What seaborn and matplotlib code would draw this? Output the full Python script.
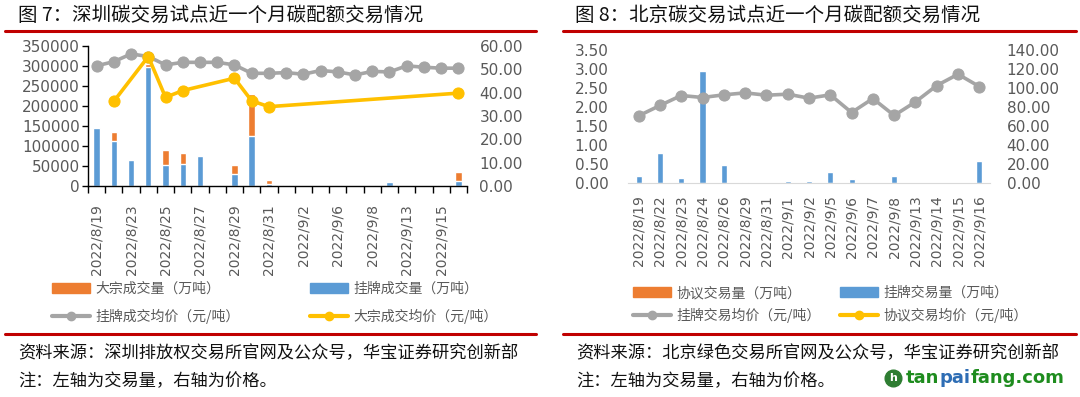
import numpy as np
import pandas as pd
import matplotlib.pyplot as plt
import seaborn as sns
from matplotlib.patches import Patch
from matplotlib.lines import Line2D
from matplotlib.ticker import FormatStrFormatter

nan = np.nan

# Shenzhen (figure 7)
sz_dates = ['2022/8/19', '2022/8/22', '2022/8/23', '2022/8/24', '2022/8/25', '2022/8/26',
            '2022/8/27', '2022/8/28', '2022/8/29', '2022/8/30', '2022/8/31', '2022/9/1',
            '2022/9/2', '2022/9/5', '2022/9/6', '2022/9/7', '2022/9/8', '2022/9/9',
            '2022/9/13', '2022/9/14', '2022/9/15', '2022/9/16']
sz_listed_vol = [145000, 113000, 65500, 297000, 52000, 54000, 74600, 3000, 30700, 124400, 4000,
                 2500, 0, 0, 3000, 0, 2500, 9000, 0, 0, 2000, 12400]
sz_bulk_vol = [0, 23000, 0, 8000, 39000, 29000, 0, 0, 21000, 105000, 12000,
               0, 0, 0, 0, 0, 0, 0, 0, 0, 0, 23000]
sz_listed_price = [51.5, 53.3, 56.6, 55.5, 51.9, 53.0, 53.0, 53.0, 51.9, 48.3, 48.3,
                   48.6, 47.9, 49.5, 48.9, 47.6, 49.1, 48.9, 51.5, 50.9, 50.5, 50.5]
sz_bulk_price = [nan, 36.3, nan, 55.5, 38.0, 40.9, nan, nan, 46.2, 36.5, 34.0,
                 nan, nan, nan, nan, nan, nan, nan, nan, nan, nan, 39.8]

# Beijing (figure 8)
bj_dates = ['2022/8/19', '2022/8/22', '2022/8/23', '2022/8/24', '2022/8/26', '2022/8/29',
            '2022/8/31', '2022/9/1', '2022/9/2', '2022/9/5', '2022/9/6', '2022/9/7',
            '2022/9/8', '2022/9/13', '2022/9/14', '2022/9/15', '2022/9/16']
bj_listed_vol = [0.19, 0.79, 0.13, 2.95, 0.48, 0.03, 0, 0.04, 0.06, 0.28, 0.11, 0,
                 0.19, 0, 0, 0, 0.58]
bj_listed_price = [70.7, 81.6, 92.1, 90.0, 92.8, 94.9, 92.4, 93.5, 89.3, 92.8, 74.2,
                   88.9, 71.1, 85.4, 102.6, 114.5, 101.5]

BLUE = '#5B9BD5'
ORANGE = '#ED7D31'
GRAY = '#A5A5A5'
YELLOW = '#FFC000'
RED = '#C00000'
TXT = '#595959'
CJK = ['Noto Sans CJK SC', 'DejaVu Sans']

sns.set_style('white')
plt.rcParams['font.family'] = ['DejaVu Sans', 'Noto Sans CJK SC']

fig = plt.figure(figsize=(10.8, 3.97), dpi=100)
W, H = 1080, 397


def fx(px):
    return px / W


def fy(py):
    return 1 - py / H


bg = fig.add_axes([0, 0, 1, 1])
bg.set_xlim(0, 1)
bg.set_ylim(0, 1)
bg.axis('off')

# ---------- left panel: Shenzhen ----------
ax = fig.add_axes([fx(88), fy(186), fx(467 - 88), (186 - 46) / H])
sz_total = [a + b for a, b in zip(sz_listed_vol, sz_bulk_vol)]
sns.barplot(x=sz_dates, y=sz_total, color=ORANGE, saturation=1, width=0.37,
            errorbar=None, ax=ax)
sns.barplot(x=sz_dates, y=sz_listed_vol, color=BLUE, saturation=1, width=0.37,
            errorbar=None, ax=ax)
ax.set_xlim(-0.5, len(sz_dates) - 0.5)
ax.set_ylim(0, 350000)
ax.set_yticks(range(0, 350001, 50000))
ax.set_xticks(range(len(sz_dates)))
ax.set_xticklabels([d if i % 2 == 0 else '' for i, d in enumerate(sz_dates)],
                   rotation=90, fontsize=10, color=TXT)
ax.set_xticks(np.arange(-0.5, len(sz_dates), 1), minor=True)
ax.tick_params(axis='x', which='major', length=0, pad=13)
ax.tick_params(axis='x', which='minor', bottom=True, length=5, width=1, color='black',
               direction='out')
ax.tick_params(axis='y', left=True, length=4, width=1, color='black', labelsize=11,
               labelcolor=TXT, pad=2)
for s in ['top', 'right']:
    ax.spines[s].set_visible(False)
for s in ['left', 'bottom']:
    ax.spines[s].set_color('black')
    ax.spines[s].set_linewidth(1)
ax.set_xlabel('')
ax.set_ylabel('')

ax2 = ax.twinx()
pos = np.arange(len(sz_dates))
sns.lineplot(x=pos, y=sz_listed_price, ax=ax2, color=GRAY, linewidth=2.6, marker='o',
             markersize=8, markeredgecolor=GRAY, legend=False)
bulk = pd.DataFrame({'x': pos, 'y': sz_bulk_price}).dropna()
sns.lineplot(data=bulk, x='x', y='y', ax=ax2, color=YELLOW, linewidth=2.6, marker='o',
             markersize=8, markeredgecolor=YELLOW, legend=False)
ax2.set_ylim(0, 60)
ax2.set_yticks(range(0, 61, 10))
ax2.yaxis.set_major_formatter(FormatStrFormatter('%.2f'))
ax2.tick_params(axis='y', length=0, labelsize=11, labelcolor=TXT, pad=9)
for s in ax2.spines.values():
    s.set_visible(False)
ax2.set_xlim(-0.5, len(sz_dates) - 0.5)
ax2.set_ylabel('')

# ---------- right panel: Beijing ----------
bx = fig.add_axes([fx(628), fy(183), fx(990 - 628), (183 - 50) / H])
sns.barplot(x=bj_dates, y=bj_listed_vol, color=BLUE, saturation=1, width=0.29,
            errorbar=None, ax=bx)
bx.set_xlim(-0.5, len(bj_dates) - 0.5)
bx.set_ylim(0, 3.5)
bx.set_yticks(np.arange(0, 3.51, 0.5))
bx.yaxis.set_major_formatter(FormatStrFormatter('%.2f'))
bx.set_xticks(range(len(bj_dates)))
bx.set_xticklabels(bj_dates, rotation=90, fontsize=10, color=TXT)
bx.tick_params(axis='x', length=0, pad=9)
bx.tick_params(axis='y', length=0, labelsize=11, labelcolor=TXT, pad=14)
for s in ['top', 'right', 'left']:
    bx.spines[s].set_visible(False)
bx.spines['bottom'].set_color('#D9D9D9')
bx.set_xlabel('')
bx.set_ylabel('')

bx2 = bx.twinx()
sns.lineplot(x=np.arange(len(bj_dates)), y=bj_listed_price, ax=bx2, color=GRAY,
             linewidth=2.6, marker='o', markersize=8, markeredgecolor=GRAY, legend=False)
bx2.set_ylim(0, 140)
bx2.set_yticks(range(0, 141, 20))
bx2.yaxis.set_major_formatter(FormatStrFormatter('%.2f'))
bx2.tick_params(axis='y', length=0, labelsize=11, labelcolor=TXT, pad=12)
for s in bx2.spines.values():
    s.set_visible(False)
bx2.set_xlim(-0.5, len(bj_dates) - 0.5)
bx2.set_ylabel('')


# ---------- legends ----------
def patch(c):
    return Patch(facecolor=c, edgecolor=c)


def mline(c):
    return Line2D([0], [0], color=c, linewidth=3, marker='o', markersize=6)


leg_kw = dict(loc='upper left', frameon=False, borderpad=0, borderaxespad=0,
              handlelength=2.7, handletextpad=0.4, labelcolor=TXT,
              prop={'family': CJK, 'size': 10})
fig.legend([patch(ORANGE), mline(GRAY)], ['大宗成交量（万吨）', '挂牌成交均价（元/吨）'],
           bbox_to_anchor=(fx(52), fy(282)), labelspacing=0.95, **leg_kw)
fig.legend([patch(BLUE), mline(YELLOW)], ['挂牌成交量（万吨）', '大宗成交均价（元/吨）'],
           bbox_to_anchor=(fx(310), fy(282)), labelspacing=0.95, **leg_kw)
fig.legend([patch(ORANGE), mline(GRAY)], ['协议交易量（万吨）', '挂牌交易均价（元/吨）'],
           bbox_to_anchor=(fx(633), fy(286)), labelspacing=0.55, **leg_kw)
fig.legend([patch(BLUE), mline(YELLOW)], ['挂牌交易量（万吨）', '协议交易均价（元/吨）'],
           bbox_to_anchor=(fx(840), fy(286)), labelspacing=0.55, **leg_kw)

# ---------- titles, rules, notes ----------
bg.text(fx(18), fy(15), '图 7：深圳碳交易试点近一个月碳配额交易情况', family=CJK,
        fontsize=14, va='center', ha='left', color='#111111')
bg.text(fx(575), fy(15), '图 8：北京碳交易试点近一个月碳配额交易情况', family=CJK,
        fontsize=14, va='center', ha='left', color='#111111')
for y in (31, 334):
    bg.plot([fx(5), fx(536)], [fy(y), fy(y)], color=RED, linewidth=2.2)
    bg.plot([fx(563), fx(1076)], [fy(y), fy(y)], color=RED, linewidth=2.2)

bg.text(fx(18), fy(353), '资料来源：深圳排放权交易所官网及公众号，华宝证券研究创新部',
        family=CJK, fontsize=12.4, va='center', ha='left', color='#111111')
bg.text(fx(18), fy(381), '注：左轴为交易量，右轴为价格。',
        family=CJK, fontsize=12.4, va='center', ha='left', color='#111111')
bg.text(fx(576), fy(353), '资料来源：北京绿色交易所官网及公众号，华宝证券研究创新部',
        family=CJK, fontsize=12.4, va='center', ha='left', color='#111111')
bg.text(fx(576), fy(381), '注：左轴为交易量，右轴为价格。',
        family=CJK, fontsize=12.4, va='center', ha='left', color='#111111')

# watermark
bg.plot([fx(893)], [fy(378)], marker='o', markersize=12, color='#2E7D32')
bg.text(fx(893), fy(378), 'h', fontsize=8, fontweight='bold', color='white',
        ha='center', va='center')
t1 = bg.text(fx(906), fy(378), 'tan', fontsize=13, fontweight='bold', color='#1E8C1E',
             ha='left', va='center')
t2 = bg.annotate('pai', xy=(1, 0.5), xycoords=t1, fontsize=13, fontweight='bold',
                 color='#2E6DB4', ha='left', va='center')
bg.annotate('fang.com', xy=(1, 0.5), xycoords=t2, fontsize=13, fontweight='bold',
            color='#1E8C1E', ha='left', va='center')

fig.savefig('out.png', dpi=100)
